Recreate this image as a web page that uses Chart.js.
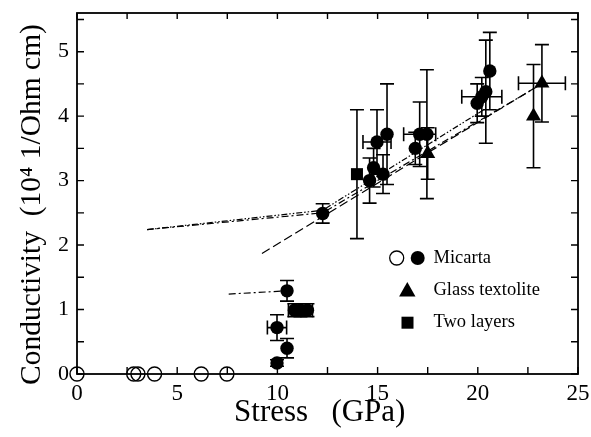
<!DOCTYPE html>
<html><head><meta charset="utf-8">
<script src="https://cdn.jsdelivr.net/npm/chart.js@4/dist/chart.umd.min.js"></script>
<style>html,body{margin:0;padding:0;background:#fff}#wrap{width:591px;height:437px}</style>
</head><body><div id="wrap"><canvas id="c" width="591" height="437"></canvas></div>
<script>
// ---- data ----
const xTickLabels = [0, 5, 10, 15, 20, 25];
const yTickLabels = [0, 1, 2, 3, 4, 5];

const micartaOpenX = [0, 2.83, 3.04, 3.87, 6.2, 7.48];
const micartaOpenY = [0, 0, 0, 0, 0, 0];

const micartaX    = [9.98, 9.98, 10.48, 10.48, 10.85, 11.15, 11.5, 12.26, 14.6, 14.8, 14.97, 15.27, 15.47, 16.88, 17.1, 17.46, 19.97, 20.2, 20.4, 20.6];
const micartaY    = [0.17, 0.72, 0.40, 1.29, 0.99, 0.99, 0.99, 2.49, 3.0, 3.2, 3.6, 3.1, 3.72, 3.5, 3.72, 3.72, 4.2, 4.3, 4.38, 4.7];
const micartaYErr = [0.05, 0.2, 0.15, 0.16, 0.1, 0.1, 0.1, 0.15, 0.35, 0.3, 0.5, 0.3, 0.78, 0.25, 0.5, 1.0, 0.3, 0.3, 0.8, 0.6];
const micartaXErr = [0, 0.48, 0, 0, 0, 0.6, 0, 0, 0, 0, 0.7, 0, 0, 0, 0.8, 0, 0, 1.0, 0, 0];

const glassX    = [17.5, 22.78, 23.2];
const glassY    = [3.42, 4.0, 4.51];
const glassYErr = [0.4, 0.8, 0.6];
const glassXErr = [0, 0, 1.17];

const twoX    = [13.97];
const twoY    = [3.1];
const twoYErr = [1.0];
const twoXErr = [0];

// fit / guide lines
const lineAX = [3.5, 12.26, 23.2];
const lineAY = [2.24, 2.5, 4.5];
const lineBX = [9.23, 22.8];
const lineBY = [1.87, 4.43];
const lineCX = [3.5, 12.26, 20.3];
const lineCY = [2.24, 2.54, 4.1];
const lineDX = [7.57, 10.48];
const lineDY = [1.24, 1.29];

const legendLabels = ['Micarta', 'Glass textolite', 'Two layers'];

// ---- build ----
const pts = (xs, ys) => xs.map((x, i) => ({x, y: ys[i]}));
const SERIF = '"Liberation Serif", "Times New Roman", serif';

const errSets = [
  {x: micartaX, y: micartaY, ex: micartaXErr, ey: micartaYErr},
  {x: glassX, y: glassY, ex: glassXErr, ey: glassYErr},
  {x: twoX, y: twoY, ex: twoXErr, ey: twoYErr}
];

const errorBars = {
  id: 'errorBars',
  beforeDatasetsDraw(chart) {
    const {ctx, scales: {x: sx, y: sy}} = chart;
    ctx.save();
    ctx.strokeStyle = '#000';
    ctx.lineWidth = 1.6;
    const cap = 7;
    errSets.forEach(s => {
      s.x.forEach((xv, i) => {
        const px = sx.getPixelForValue(xv), py = sy.getPixelForValue(s.y[i]);
        const ey = s.ey[i], ex = s.ex[i];
        ctx.beginPath();
        if (ey > 0) {
          const t = sy.getPixelForValue(s.y[i] + ey), b = sy.getPixelForValue(s.y[i] - ey);
          ctx.moveTo(px, t); ctx.lineTo(px, b);
          ctx.moveTo(px - cap, t); ctx.lineTo(px + cap, t);
          ctx.moveTo(px - cap, b); ctx.lineTo(px + cap, b);
        }
        if (ex > 0) {
          const l = sx.getPixelForValue(xv - ex), r = sx.getPixelForValue(xv + ex);
          ctx.moveTo(l, py); ctx.lineTo(r, py);
          ctx.moveTo(l, py - cap); ctx.lineTo(l, py + cap);
          ctx.moveTo(r, py - cap); ctx.lineTo(r, py + cap);
        }
        ctx.stroke();
      });
    });
    ctx.restore();
  }
};

const frame = {
  id: 'frame',
  afterDraw(chart) {
    const {ctx, chartArea: a, scales: {x: sx, y: sy}} = chart;
    ctx.save();
    ctx.strokeStyle = '#000';
    ctx.lineWidth = 1.8;
    ctx.strokeRect(a.left, a.top, a.right - a.left, a.bottom - a.top);
    ctx.lineWidth = 1.4;
    ctx.beginPath();
    for (let v = 0; v <= 25.001; v += 2.5) {
      const p = sx.getPixelForValue(v);
      ctx.moveTo(p, a.bottom); ctx.lineTo(p, a.bottom - 7);
      ctx.moveTo(p, a.top); ctx.lineTo(p, a.top + 6);
    }
    for (let v = 0; v <= 5.501; v += 0.5) {
      const p = sy.getPixelForValue(v);
      ctx.moveTo(a.left, p); ctx.lineTo(a.left + 7, p);
      ctx.moveTo(a.right, p); ctx.lineTo(a.right - 7, p);
    }
    ctx.stroke();
    // legend
    ctx.fillStyle = '#000';
    ctx.lineWidth = 1.3;
    ctx.beginPath(); ctx.arc(396.7, 258, 7, 0, Math.PI * 2); ctx.stroke();
    ctx.beginPath(); ctx.arc(417.7, 258, 7, 0, Math.PI * 2); ctx.fill();
    ctx.beginPath();
    ctx.moveTo(407.3, 282); ctx.lineTo(415.5, 296.5); ctx.lineTo(399.1, 296.5); ctx.closePath(); ctx.fill();
    ctx.fillRect(401.5, 316.7, 12, 12);
    ctx.font = '18.5px ' + SERIF;
    ctx.textBaseline = 'middle';
    ctx.textAlign = 'left';
    ctx.fillText(legendLabels[0], 433.5, 258);
    ctx.fillText(legendLabels[1], 433.5, 290);
    ctx.fillText(legendLabels[2], 433.5, 322.5);
    ctx.restore();
  }
};

const lineDs = (xs, ys, dash) => ({
  data: pts(xs, ys), showLine: true, pointRadius: 0, borderColor: '#000',
  borderWidth: 1.2, borderDash: dash, fill: false, clip: false
});

new Chart(document.getElementById('c'), {
  type: 'scatter',
  data: {
    datasets: [
      lineDs(lineAX, lineAY, [7, 3, 2, 3]),
      lineDs(lineBX, lineBY, [9, 4]),
      lineDs(lineCX, lineCY, [6, 2, 1.5, 2, 1.5, 2]),
      lineDs(lineDX, lineDY, [7, 3, 2, 3]),
      {label: legendLabels[0], data: pts(micartaOpenX, micartaOpenY), pointStyle: 'circle', pointRadius: 7,
       backgroundColor: 'rgba(0,0,0,0)', borderColor: '#000', pointBorderWidth: 1.4, clip: false},
      {label: legendLabels[0], data: pts(micartaX, micartaY), pointStyle: 'circle', pointRadius: 6.7,
       backgroundColor: '#000', borderColor: '#000', pointBorderWidth: 0, clip: false},
      {label: legendLabels[1], data: pts(glassX, glassY), pointStyle: 'triangle', pointRadius: 8.7,
       backgroundColor: '#000', borderColor: '#000', pointBorderWidth: 0, clip: false},
      {label: legendLabels[2], data: pts(twoX, twoY), pointStyle: 'rect', pointRadius: 8.5,
       backgroundColor: '#000', borderColor: '#000', pointBorderWidth: 0, clip: false}
    ]
  },
  options: {
    responsive: false,
    animation: false,
    events: [],
    layout: {padding: {top: 13, right: 13, left: 0, bottom: 0}},
    plugins: {legend: {display: false}, tooltip: {enabled: false}},
    scales: {
      x: {
        type: 'linear', min: 0, max: 25,
        grid: {display: false, drawTicks: false},
        border: {display: false},
        afterBuildTicks: s => { s.ticks = xTickLabels.map(v => ({value: v})); },
        afterFit: s => { s.height = 63; s.paddingLeft = 0; s.paddingRight = 0; },
        ticks: {color: '#000', font: {family: SERIF, size: 23}, padding: 6, maxRotation: 0},
        title: {display: true, text: 'Stress \u00a0 (GPa)\u00a0\u00a0', color: '#000', font: {family: SERIF, size: 31}, padding: {top: 0, bottom: 6}}
      },
      y: {
        type: 'linear', min: 0, max: 5.6,
        grid: {display: false, drawTicks: false},
        border: {display: false},
        afterBuildTicks: s => { s.ticks = yTickLabels.map(v => ({value: v})); },
        afterFit: s => { s.width = 77; s.paddingTop = 0; s.paddingBottom = 0; },
        ticks: {color: '#000', font: {family: SERIF, size: 22}, padding: 8},
        title: {display: true, text: 'Conductivity  (10\u2074 1/Ohm cm)\u00a0\u00a0\u00a0', color: '#000', font: {family: SERIF, size: 29.5}, padding: {top: 15, bottom: 0}}
      }
    }
  },
  plugins: [errorBars, frame]
});
</script>
</body></html>
